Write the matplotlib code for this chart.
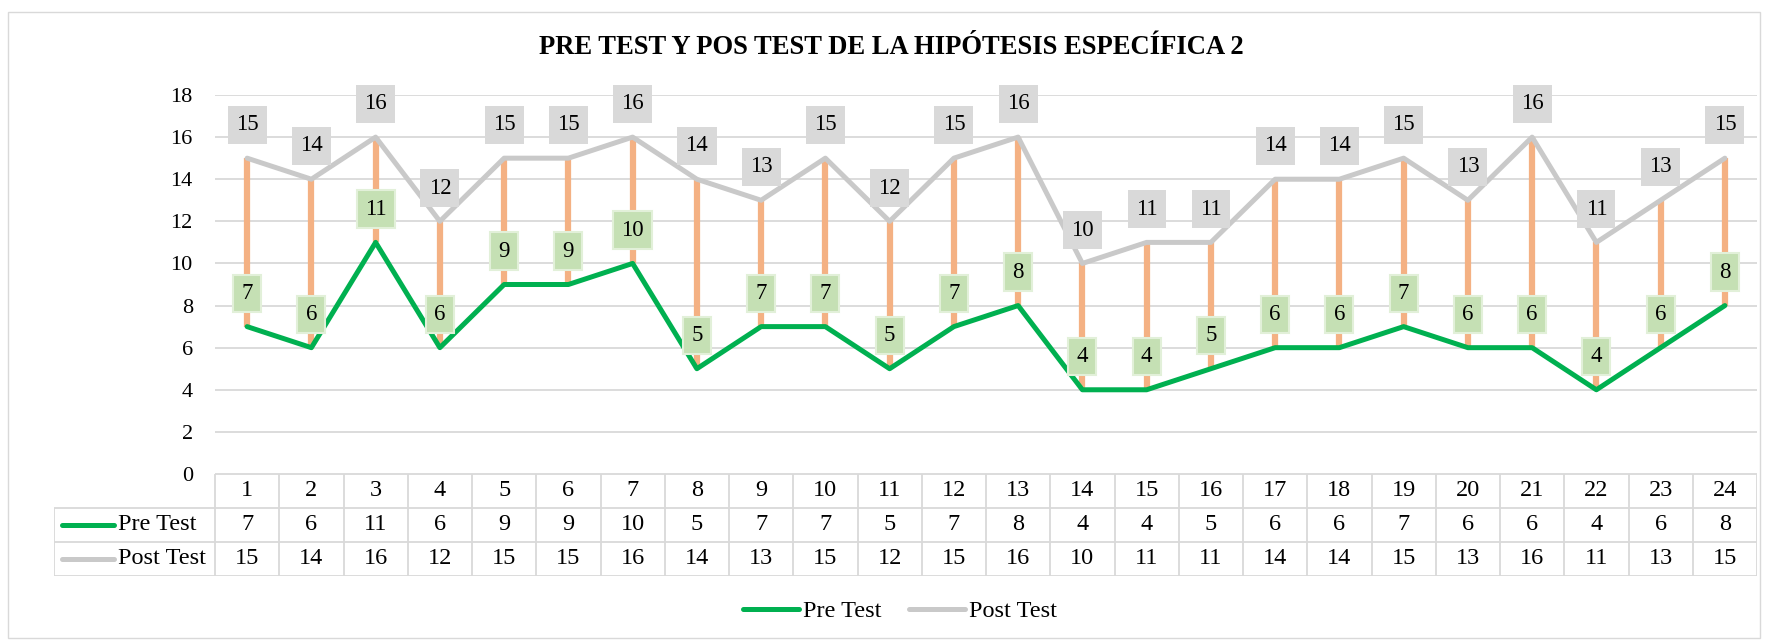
import matplotlib
matplotlib.use('Agg')
import matplotlib.pyplot as plt
from matplotlib.lines import Line2D
from matplotlib.patches import Rectangle

# ---------------- data ----------------
students = list(range(1, 25))
pre_test = [7, 6, 11, 6, 9, 9, 10, 5, 7, 7, 5, 7, 8, 4, 4, 5, 6, 6, 7, 6, 6, 4, 6, 8]
post_test = [15, 14, 16, 12, 15, 15, 16, 14, 13, 15, 12, 15, 16, 10, 11, 11, 14, 14, 15, 13, 16, 11, 13, 15]
series_names = ['Pre Test', 'Post Test']
title = 'PRE TEST Y POS TEST DE LA HIPÓTESIS ESPECÍFICA 2'
y_ticks = list(range(0, 19, 2))

# ---------------- style ----------------
GREEN = '#00B050'
GRAY = '#C9C9C9'
ORANGE = '#F4B183'
GRID = '#D9D9D9'
BOX_GRAY = '#D9D9D9'
BOX_GREEN = '#C5E0B4'
BOX_GREEN_EDGE = '#E2F0D9'

FS_TICK = 16
FS_LABEL = 16.5
FS_TABLE = 17.5
FS_LEGEND = 17.5
FS_TITLE = 19.2

plt.rcParams['font.family'] = ['Liberation Serif', 'DejaVu Serif']

W, H, DPI = 1769, 641, 100
fig = plt.figure(figsize=(W / DPI, H / DPI), dpi=DPI)

# pixel layout
px_left, px_right = 215, 1757
px_top, px_zero = 95, 474
px_tab_left, px_tab_bottom = 54, 576


def fx(px):
    return px / W


def fy(py):
    return 1 - py / H


# chart border
fig.patches.append(Rectangle((fx(8), fy(638)), fx(1760 - 8), (638 - 12) / H,
                             transform=fig.transFigure, fill=False,
                             edgecolor=GRID, lw=1.0))

# title
fig.text(fx(891), fy(47), title, ha='center', va='center',
         fontsize=FS_TITLE, fontweight='bold', color='black')

# ---------------- main axes ----------------
ax = fig.add_axes([fx(px_left), fy(px_zero), fx(px_right - px_left), (px_zero - px_top) / H])
n = len(students)
ax.set_xlim(0.5, n + 0.5)
ax.set_ylim(0, 18)
ax.set_yticks(y_ticks)
ax.set_xticks([])
for s in ax.spines.values():
    s.set_visible(False)
ax.tick_params(axis='y', length=0, pad=16, labelsize=FS_TICK)
ax.grid(axis='y', color=GRID, lw=1.3)
ax.set_axisbelow(True)

ax.vlines(students, pre_test, post_test, color=ORANGE, lw=4.5, zorder=2)
ax.plot(students, post_test, color=GRAY, lw=3.6, solid_joinstyle='round',
        solid_capstyle='round', zorder=3)
ax.plot(students, pre_test, color=GREEN, lw=3.6, solid_joinstyle='round',
        solid_capstyle='round', zorder=4)

for x, v in zip(students, post_test):
    ax.annotate(str(v), (x, v), xytext=(0, 24), textcoords='offset points',
                ha='center', va='center', fontsize=FS_LABEL, zorder=6,
                annotation_clip=False,
                bbox=dict(boxstyle='square,pad=0.36', fc=BOX_GRAY, ec='none'))
for x, v in zip(students, pre_test):
    ax.annotate(str(v), (x, v), xytext=(0, 24), textcoords='offset points',
                ha='center', va='center', fontsize=FS_LABEL, zorder=6,
                annotation_clip=False,
                bbox=dict(boxstyle='square,pad=0.36', fc=BOX_GREEN,
                          ec=BOX_GREEN_EDGE, lw=1.5))

# ---------------- data table ----------------
cw = (px_right - px_left) / n
xl = 0.5 - (px_left - px_tab_left) / cw
tab = fig.add_axes([fx(px_tab_left), fy(px_tab_bottom), fx(px_right - px_tab_left),
                    (px_tab_bottom - px_zero) / H])
tab.set_xlim(xl, n + 0.5)
tab.set_ylim(3, 0)
tab.axis('off')


def tx(px):
    return xl + (px - px_tab_left) / cw


lw_t = 1.3
tab.hlines(0, 0.5, n + 0.5, color=GRID, lw=lw_t)
tab.hlines([1, 2, 3], xl, n + 0.5, color=GRID, lw=lw_t)
tab.vlines([0.5 + k for k in range(n + 1)], 0, 3, color=GRID, lw=lw_t)
tab.vlines(xl, 1, 3, color=GRID, lw=lw_t)

for x in students:
    tab.text(x, 0.5, str(x), ha='center', va='center', fontsize=FS_TABLE)
for row, vals in ((1, pre_test), (2, post_test)):
    for x, v in zip(students, vals):
        tab.text(x, row + 0.5, str(v), ha='center', va='center', fontsize=FS_TABLE)

for row, (name, col) in enumerate(zip(series_names, [GREEN, GRAY]), start=1):
    tab.plot([tx(62), tx(114)], [row + 0.5, row + 0.5], color=col, lw=3.6,
             solid_capstyle='round')
    tab.text(tx(118), row + 0.5, name, ha='left', va='center', fontsize=FS_TABLE)

# ---------------- legend ----------------
handles = [Line2D([], [], color=GREEN, lw=3.6, solid_capstyle='round'),
           Line2D([], [], color=GRAY, lw=3.6, solid_capstyle='round')]
fig.legend(handles, series_names, loc='center', bbox_to_anchor=(fx(900), fy(611)),
           ncol=2, frameon=False, fontsize=FS_LEGEND, handlelength=2.3,
           handletextpad=0.2, columnspacing=1.1)

fig.savefig('out.png', dpi=DPI)
